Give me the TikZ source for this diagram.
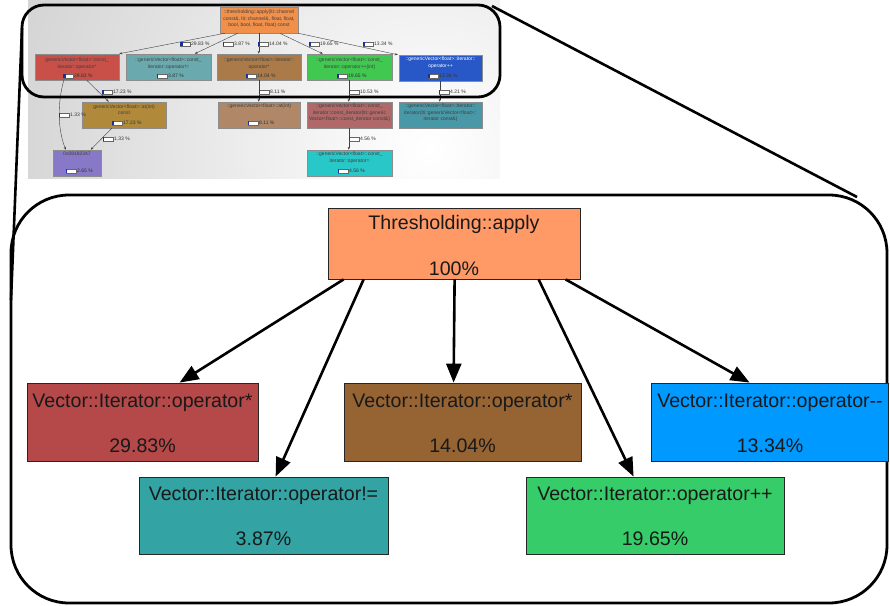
\documentclass[tikz,border=0pt]{standalone}
\usepackage{fontspec}
\setmainfont{Liberation Sans}
\usetikzlibrary{arrows.meta,fit}

\definecolor{mOrange}{HTML}{FF9966}
\definecolor{mRed}{HTML}{B54848}
\definecolor{mTeal}{HTML}{33A3A3}
\definecolor{mBrown}{HTML}{966333}
\definecolor{mBlue}{HTML}{0099FF}
\definecolor{mGreen}{HTML}{36CC69}
\definecolor{tOrange}{HTML}{F0904A}
\definecolor{tRed}{HTML}{C85048}
\definecolor{tTeal}{HTML}{6AAAAE}
\definecolor{tBrown}{HTML}{AA7A48}
\definecolor{tGreen}{HTML}{40C850}
\definecolor{tBlue}{HTML}{2858C8}
\definecolor{tGold}{HTML}{B08A3A}
\definecolor{tTan}{HTML}{B08868}
\definecolor{tRose}{HTML}{B06868}
\definecolor{tTealB}{HTML}{4898A8}
\definecolor{tPurple}{HTML}{8878C8}
\definecolor{tCyan}{HTML}{28C8C8}
\definecolor{barBlue}{HTML}{1830A0}

\newcommand\pctlab[4]{%
  \coordinate (#1) at (#2);
  \draw[pbar] ([shift={(0,-2)}]#1) rectangle ([shift={(10,2)}]#1);
  \fill[barBlue] ([shift={(0.4,-1.6)}]#1) rectangle ([shift={(0.4+9.2*#3,1.6)}]#1);
  \node[plab, anchor=west] (#1t) at ([shift={(11,0)}]#1) {#4};
}

\begin{document}
\begin{tikzpicture}[x=1pt,y=-1pt,
  tbox/.style={draw=black!45, line width=0.5pt, inner sep=0pt},
  ttxt/.style={font=\fontsize{5}{6.5}\selectfont, align=center, text=black!75, inner sep=0pt},
  tedge/.style={draw=black!75, line width=0.4pt, -{Stealth[length=2.8pt,width=2.2pt]}},
  pbar/.style={draw=black!60, fill=white, line width=0.4pt},
  plab/.style={font=\fontsize{5}{6}\selectfont, inner sep=0pt, text=black!80},
  mbox/.style={draw=black!85, line width=0.8pt, inner sep=0pt},
  mtxt/.style={font=\fontsize{19.6}{23}\selectfont, inner sep=0pt, anchor=base, text=black!90},
  marrow/.style={draw=black, line width=2.6pt, -{Triangle[length=19pt,width=15pt]}},
  frame/.style={draw=black, line width=2.8pt, inner sep=0pt},
  zoomline/.style={draw=black, line width=2.6pt}
]
\useasboundingbox (0,0) rectangle (890,605);

% --- thumbnail background ---
\begin{scope}
  \clip (28,0) rectangle (500,178);
  \shade[inner color=white, outer color=black!32] (430,150) circle (820);
\end{scope}

% --- thumbnail nodes ---
\node[tbox, fill=tOrange, fit={(220,7) (298,33)}] (t0) {};
\node[ttxt] (t0t) at (259,19) {::thresholding::apply(lti::channel\\const\&, lti::channel\&, float, float,\\bool, bool, float, float) const};

\node[tbox, fill=tRed, fit={(35,54) (119,80)}] (t1) {};
\node[ttxt] (t1t) at (77,63.5) {genericVector<float>::const\_\\iterator::operator*};
\node[tbox, fill=tTeal, fit={(126,54) (211,80)}] (t2) {};
\node[ttxt] (t2t) at (168.5,63.5) {::genericVector<float>::const\_\\iterator::operator!=};
\node[tbox, fill=tBrown, fit={(217,54) (301,80)}] (t3) {};
\node[ttxt] (t3t) at (259,63.5) {::genericVector<float>::iterator::\\operator*};
\node[tbox, fill=tGreen, fit={(307,54) (392,80)}] (t4) {};
\node[ttxt] (t4t) at (349.5,63.5) {::genericVector<float>::const\_\\iterator::operator++(int)};
\node[tbox, fill=tBlue, fit={(399,55) (482,81)}] (t5) {};
\node[ttxt, text=white] (t5t) at (440.5,62.5) {::genericVector<float>::iterator::\\operator++};

\node[tbox, fill=tGold, fit={(82,102) (166,128)}] (t6) {};
\node[ttxt] (t6t) at (124,109.5) {genericVector<float>::at(int)\\const};
\node[tbox, fill=tTan, fit={(218,102) (300,128)}] (t7) {};
\node[ttxt] (t7t) at (259,106.5) {::genericVector<float>::at(int)};
\node[tbox, fill=tRose, fit={(307,102) (392,128)}] (t8) {};
\node[ttxt] (t8t) at (349.5,113) {::genericVector<float>::const\_\\iterator::const\_iterator(lti::generic\\Vector<float>::const\_iterator const\&)};
\node[tbox, fill=tTealB, fit={(399,102) (482,128)}] (t9) {};
\node[ttxt] (t9t) at (440.5,113) {::genericVector<float>::iterator::\\iterator(lti::genericVector<float>::\\iterator const\&)};

\node[tbox, fill=tPurple, fit={(53,150) (101,176)}] (t10) {};
\node[ttxt] (t10t) at (77,153.5) {0x08182347};
\node[tbox, fill=tCyan, fit={(307,150) (392,176)}] (t11) {};
\node[ttxt] (t11t) at (349.5,157.5) {::genericVector<float>::const\_\\iterator::operator=};

% --- thumbnail edges ---
\draw[tedge] ([xshift=5]t0.south west) -- (t1.north east);
\draw[tedge] ([xshift=18]t0.south west) -- ([xshift=69]t2.north west);
\draw[tedge] ([xshift=39]t0.south west) -- ([xshift=42]t3.north west);
\draw[tedge] ([xshift=60]t0.south west) -- ([xshift=16]t4.north west);
\draw[tedge] (t0.south east) -- ([xshift=-1]t5.north west);
\draw[tedge] ([xshift=52]t1.south west) -- ([xshift=27]t6.north west);
\draw[tedge] ([xshift=29]t1.south west) .. controls (57,105) and (58,130) .. ([xshift=13]t10.north west);
\draw[tedge] ([xshift=30]t6.south west) -- ([xshift=38]t10.north west);
\draw[tedge] ([xshift=42]t3.south west) -- ([xshift=41]t7.north west);
\draw[tedge] ([xshift=42]t4.south west) -- ([xshift=42]t8.north west);
\draw[tedge] ([xshift=41]t5.south west) -- ([xshift=41]t9.north west);
\draw[tedge] ([xshift=42]t8.south west) -- ([xshift=42]t11.north west);

% --- percentage bars ---
\pctlab{b1}{63,76}{0.30}{29.83 \%}
\pctlab{b2}{157,76}{0.04}{3.87 \%}
\pctlab{b3}{246,76}{0.14}{14.04 \%}
\pctlab{b4}{337,76}{0.20}{19.65 \%}
\pctlab{b5}{428,76}{0.13}{13.34 \%}
\pctlab{b6}{112,123}{0.17}{17.23 \%}
\pctlab{b7}{248,123}{0.08}{8.11 \%}
\pctlab{b10}{66,171}{0.03}{2.65 \%}
\pctlab{b11}{338,171}{0.05}{4.56 \%}
\pctlab{e1}{180,44}{0.30}{29.83 \%}
\pctlab{e2}{223,44}{0.04}{3.87 \%}
\pctlab{e3}{258,44}{0.14}{14.04 \%}
\pctlab{e4}{309,44}{0.20}{19.65 \%}
\pctlab{e5}{363,44}{0.13}{13.34 \%}
\pctlab{e6}{102,92}{0.17}{17.23 \%}
\pctlab{e7}{59,115}{0.01}{1.33 \%}
\pctlab{e8}{103,139}{0.01}{1.33 \%}
\pctlab{e9}{259,92}{0.08}{8.11 \%}
\pctlab{e10}{349,92}{0.11}{10.53 \%}
\pctlab{e11}{439,92}{0.04}{4.21 \%}
\pctlab{e12}{349,139}{0.05}{4.56 \%}

% --- frames and zoom lines ---
\node[frame, rounded corners=22pt, fit={(22,5) (500,97)}] (topframe) {};
\node[frame, rounded corners=58pt, fit={(11,195) (887,603)}] (bigframe) {};
\coordinate (zl1) at (22,28);
\coordinate (zl2) at (11,300);
\coordinate (zr1) at (492,6);
\coordinate (zr2) at (857,197);
\draw[zoomline] (zl1) -- (zl2);
\draw[zoomline] (zr1) -- (zr2);

% --- main graph ---
\node[mbox, fill=mOrange, fit={(328,208) (580,279)}] (root) {};
\node[mtxt] (rootA) at (454,229.5) {Thresholding::apply};
\node[mtxt] (rootB) at (454,275) {100\%};

\node[mbox, fill=mRed, fit={(27,383) (258,461)}] (red) {};
\node[mtxt] (redA) at (142.5,407) {Vector::Iterator::operator*};
\node[mtxt] (redB) at (142.5,452) {29.83\%};

\node[mbox, fill=mBrown, fit={(344,383) (581,461)}] (brown) {};
\node[mtxt] (brownA) at (462.5,407) {Vector::Iterator::operator*};
\node[mtxt] (brownB) at (462.5,452) {14.04\%};

\node[mbox, fill=mBlue, fit={(651,383) (888,461)}] (blue) {};
\node[mtxt] (blueA) at (770,407) {Vector::Iterator::operator-{}-};
\node[mtxt] (blueB) at (770,452) {13.34\%};

\node[mbox, fill=mTeal, fit={(139,477) (388,554)}] (teal) {};
\node[mtxt] (tealA) at (263.5,500) {Vector::Iterator::operator!=};
\node[mtxt] (tealB) at (263.5,545) {3.87\%};

\node[mbox, fill=mGreen, fit={(526,477) (784,554)}] (green) {};
\node[mtxt] (greenA) at (655,500) {Vector::Iterator::operator++};
\node[mtxt] (greenB) at (655,545) {19.65\%};

\draw[marrow] ([xshift=16]root.south west) -- ([xshift=153]red.north west);
\draw[marrow] ([xshift=36]root.south west) -- ([xshift=137]teal.north west);
\draw[marrow] ([xshift=127]root.south west) -- ([xshift=110]brown.north west);
\draw[marrow] ([xshift=211]root.south west) -- ([xshift=108]green.north west);
\draw[marrow] ([xshift=238]root.south west) -- ([xshift=99]blue.north west);
\end{tikzpicture}
\end{document}
